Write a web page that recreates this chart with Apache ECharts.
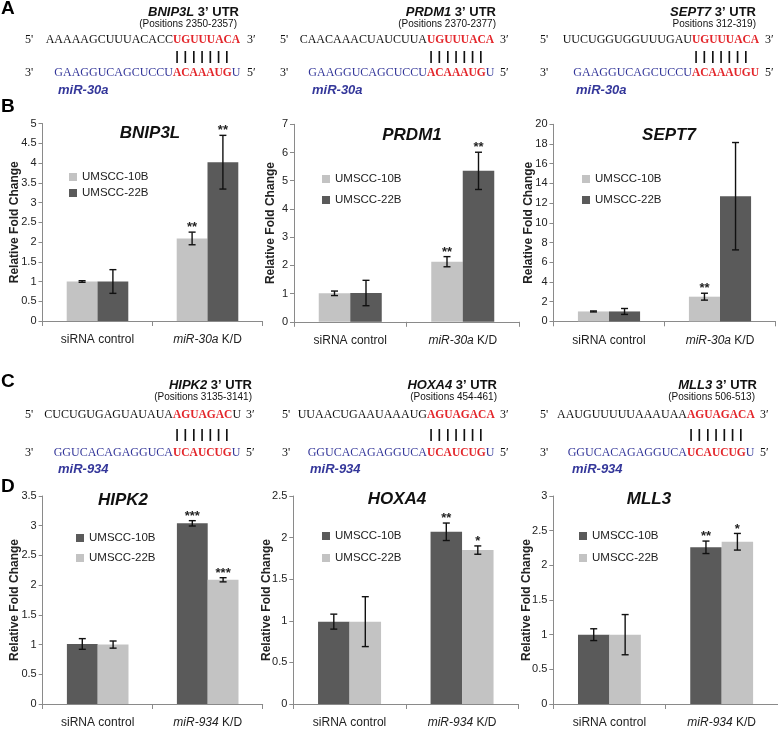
<!DOCTYPE html>
<html><head><meta charset="utf-8">
<script src="https://cdn.jsdelivr.net/npm/echarts@6/dist/echarts.min.js"></script>
<style>html,body{margin:0;padding:0;background:#fff;}#main{width:778px;height:729px;}</style>
</head><body><div id="main"></div>
<script>
// ---------------- data ----------------
const categoriesB = ['siRNA control', 'miR-30a K/D'];
const categoriesD = ['siRNA control', 'miR-934 K/D'];
const cellLines = ['UMSCC-10B', 'UMSCC-22B'];

const bnip3l10B = [1.00, 2.09], bnip3l10BErr = [0.02, 0.16], bnip3l10BSig = ['', '**'];
const bnip3l22B = [1.00, 4.02], bnip3l22BErr = [0.30, 0.68], bnip3l22BSig = ['', '**'];
const bnip3lTicks = [0, 5, 0.5];

const prdm110B = [1.01, 2.13], prdm110BErr = [0.08, 0.18], prdm110BSig = ['', '**'];
const prdm122B = [1.02, 5.35], prdm122BErr = [0.45, 0.66], prdm122BSig = ['', '**'];
const prdm1Ticks = [0, 7, 1];

const sept710B = [1.00, 2.50], sept710BErr = [0.05, 0.35], sept710BSig = ['', '**'];
const sept722B = [1.00, 12.7], sept722BErr = [0.30, 5.45], sept722BSig = ['', ''];
const sept7Ticks = [0, 20, 2];

const hipk210B = [1.01, 3.04], hipk210BErr = [0.09, 0.045], hipk210BSig = ['', '***'];
const hipk222B = [1.00, 2.09], hipk222BErr = [0.06, 0.035], hipk222BSig = ['', '***'];
const hipk2Ticks = [0, 3.5, 0.5];

const hoxa410B = [0.99, 2.07], hoxa410BErr = [0.09, 0.105], hoxa410BSig = ['', '**'];
const hoxa422B = [0.99, 1.85], hoxa422BErr = [0.30, 0.05], hoxa422BSig = ['', '*'];
const hoxa4Ticks = [0, 2.5, 0.5];

const mll310B = [1.00, 2.26], mll310BErr = [0.085, 0.09], mll310BSig = ['', '**'];
const mll322B = [1.00, 2.34], mll322BErr = [0.29, 0.12], mll322BSig = ['', '*'];
const mll3Ticks = [0, 3, 0.5];

const geneNames = ['BNIP3L', 'PRDM1', 'SEPT7', 'HIPK2', 'HOXA4', 'MLL3'];
const utrPositions = ['(Positions 2350-2357)', '(Positions 2370-2377)', 'Positions 312-319)',
                      '(Positions 3135-3141)', '(Positions 454-461)', '(Positions 506-513)'];
const utrBlack = ['AAAAAGCUUUACACC', 'CAACAAACUAUCUUA', 'UUCUGGUGGUUUGAU',
                  'CUCUGUGAGUAUAUA', 'UUAACUGAAUAAAUG', 'AAUGUUUUUAAAUAA'];
const utrRed = ['UGUUUACA', 'UGUUUACA', 'UGUUUACA', 'AGUAGAC', 'AGUAGACA', 'AGUAGACA'];
const utrTail = ['', '', '', 'U', '', ''];
const mirBlue = ['GAAGGUCAGCUCCU', 'GAAGGUCAGCUCCU', 'GAAGGUCAGCUCCU',
                 'GGUCACAGAGGUCA', 'GGUCACAGAGGUCA', 'GGUCACAGAGGUCA'];
const mirRed = ['ACAAAUG', 'ACAAAUG', 'ACAAAUGU', 'UCAUCUG', 'UCAUCUG', 'UCAUCUG'];
const mirTail = ['U', 'U', '', 'U', 'U', 'U'];
const mirNames = ['miR-30a', 'miR-30a', 'miR-30a', 'miR-934', 'miR-934', 'miR-934'];
const panelLetters = ['A', 'B', 'C', 'D'];
const yAxisName = 'Relative Fold Change';

// ---------------- styling / layout ----------------
const LIGHT = '#c3c3c3', DARK = '#5a5a5a';
const SANS = 'Liberation Sans, Arial, sans-serif';
const SERIF = 'Liberation Serif, Times New Roman, serif';
const RED = '#e3262b', BLUE = '#34379a';

const charts = [
  {gene: 0, cats: categoriesB, a: [bnip3l10B, bnip3l10BErr, bnip3l10BSig], b: [bnip3l22B, bnip3l22BErr, bnip3l22BSig], ticks: bnip3lTicks, colors: [LIGHT, DARK]},
  {gene: 1, cats: categoriesB, a: [prdm110B, prdm110BErr, prdm110BSig], b: [prdm122B, prdm122BErr, prdm122BSig], ticks: prdm1Ticks, colors: [LIGHT, DARK]},
  {gene: 2, cats: categoriesB, a: [sept710B, sept710BErr, sept710BSig], b: [sept722B, sept722BErr, sept722BSig], ticks: sept7Ticks, colors: [LIGHT, DARK]},
  {gene: 3, cats: categoriesD, a: [hipk210B, hipk210BErr, hipk210BSig], b: [hipk222B, hipk222BErr, hipk222BSig], ticks: hipk2Ticks, colors: [DARK, LIGHT]},
  {gene: 4, cats: categoriesD, a: [hoxa410B, hoxa410BErr, hoxa410BSig], b: [hoxa422B, hoxa422BErr, hoxa422BSig], ticks: hoxa4Ticks, colors: [DARK, LIGHT]},
  {gene: 5, cats: categoriesD, a: [mll310B, mll310BErr, mll310BSig], b: [mll322B, mll322BErr, mll322BSig], ticks: mll3Ticks, colors: [DARK, LIGHT]}
];
const layouts = [
  {grid: {left: 42.5, top: 123.5, width: 220, height: 197.5}, legend: {left: 64, top: 165, gap: 2}, title: [150, 133], nameGap: 22},
  {grid: {left: 294, top: 124.3, width: 225, height: 197.5}, legend: {left: 317, top: 167, gap: 7}, title: [412, 135], nameGap: 17.5},
  {grid: {left: 553.5, top: 124.3, width: 222, height: 197}, legend: {left: 577, top: 167, gap: 7}, title: [669, 135], nameGap: 18.5},
  {grid: {left: 42.7, top: 496, width: 220, height: 215.7}, legend: {left: 71, top: 526, gap: 6}, title: [123, 500], nameGap: 22},
  {grid: {left: 293.3, top: 496, width: 225, height: 215.7}, legend: {left: 317, top: 524, gap: 8}, title: [397, 499], nameGap: 21},
  {grid: {left: 553.3, top: 496, width: 224.5, height: 214}, legend: {left: 574, top: 524, gap: 8}, title: [649, 499], nameGap: 21}
];
const seqLayouts = [
  {p5: 25, red: 173, p3: 247, titleR: 239, posR: 237, mir: 58, yT: 12, yP: 24, y1: 40, yPipe: 56, y2: 73, yM: 90},
  {p5: 280, red: 427, p3: 500, titleR: 496, posR: 496, mir: 312, yT: 12, yP: 24, y1: 40, yPipe: 56, y2: 73, yM: 90},
  {p5: 540, red: 692, p3: 765, titleR: 756, posR: 756, mir: 576, yT: 12, yP: 24, y1: 40, yPipe: 56, y2: 73, yM: 90},
  {p5: 25, red: 173, p3: 246, titleR: 252, posR: 252, mir: 58, yT: 385, yP: 397, y1: 415, yPipe: 434, y2: 453, yM: 469},
  {p5: 282, red: 427, p3: 500, titleR: 497, posR: 497, mir: 310, yT: 385, yP: 397, y1: 415, yPipe: 434, y2: 453, yM: 469},
  {p5: 540, red: 687, p3: 760, titleR: 757, posR: 755, mir: 572, yT: 385, yP: 397, y1: 415, yPipe: 434, y2: 453, yM: 469}
];
const letterPos = [[1, 9], [1, 107], [1, 382], [1, 487]];

const BAR_FRAC = 0.28;

function errRenderer(sign, sig) {
  return function (params, api) {
    const ci = api.value(0), m = api.value(1), e = api.value(2);
    const band = api.size([1, 0])[0];
    const bw = band * BAR_FRAC;
    const c = api.coord([ci, m]);
    const x = c[0] + sign * bw / 2;
    const yTop = api.coord([ci, m + e])[1];
    const yBot = api.coord([ci, m - e])[1];
    const cap = 3.5;
    const ls = {stroke: '#111', lineWidth: 1.4};
    const children = [
      {type: 'line', shape: {x1: x, y1: yTop, x2: x, y2: yBot}, style: ls},
      {type: 'line', shape: {x1: x - cap, y1: yTop, x2: x + cap, y2: yTop}, style: ls},
      {type: 'line', shape: {x1: x - cap, y1: yBot, x2: x + cap, y2: yBot}, style: ls}
    ];
    const s = sig[params.dataIndex];
    if (s) {
      children.push({type: 'text', x: x, y: yTop + 2,
        style: {text: s, font: 'bold 13px ' + SANS, fill: '#222', textAlign: 'center', textVerticalAlign: 'bottom'}});
    }
    return {type: 'group', children: children};
  };
}

const option = {
  animation: false,
  backgroundColor: '#fff',
  grid: [], xAxis: [], yAxis: [], legend: [], series: [], graphic: []
};

charts.forEach(function (ch, k) {
  const L = layouts[k];
  option.grid.push(Object.assign({containLabel: false}, L.grid));
  option.xAxis.push({
    type: 'category', gridIndex: k, data: ch.cats,
    axisLine: {lineStyle: {color: '#8a8a8a', width: 1}},
    axisTick: {show: true, length: 5, lineStyle: {color: '#8a8a8a'}},
    axisLabel: {
      interval: 0, hideOverlap: false,
      margin: 13, color: '#222', fontSize: 12, fontFamily: SANS,
      formatter: function (v) {
        if (v.indexOf(' K/D') > 0) return '{i|' + v.replace(' K/D', '') + '}{n| K/D}';
        return '{n|' + v + '}';
      },
      rich: {i: {fontStyle: 'italic', fontSize: 12, color: '#222', fontFamily: SANS}, n: {fontSize: 12, color: '#222', fontFamily: SANS}}
    },
    splitLine: {show: false}
  });
  option.yAxis.push({
    type: 'value', gridIndex: k, min: ch.ticks[0], max: ch.ticks[1], interval: ch.ticks[2],
    name: yAxisName, nameLocation: 'middle', nameGap: L.nameGap, nameMoveOverlap: false,
    nameTextStyle: {fontSize: 12, fontWeight: 'bold', color: '#222', fontFamily: SANS},
    axisLine: {show: true, lineStyle: {color: '#8a8a8a', width: 1}},
    axisTick: {show: true, length: 4, lineStyle: {color: '#8a8a8a'}},
    axisLabel: {margin: 6, color: '#222', fontSize: 11, fontFamily: SANS},
    splitLine: {show: false}
  });
  const n1 = cellLines[0] + '#' + k, n2 = cellLines[1] + '#' + k;
  option.legend.push({
    data: [n1, n2], left: L.legend.left, top: L.legend.top, orient: 'vertical',
    itemWidth: 8, itemHeight: 8, itemGap: L.legend.gap, icon: 'rect', selectedMode: false,
    formatter: function (nm) { return nm.split('#')[0]; },
    textStyle: {fontSize: 11.5, color: '#222', fontFamily: SANS, lineHeight: 14}
  });
  [[ch.a, n1, ch.colors[0]], [ch.b, n2, ch.colors[1]]].forEach(function (s) {
    option.series.push({
      type: 'bar', name: s[1], xAxisIndex: k, yAxisIndex: k, data: s[0][0],
      barWidth: (BAR_FRAC * 100) + '%', barGap: '0%',
      itemStyle: {color: s[2]}, silent: true
    });
  });
  [[ch.a, 'ea#' + k, -1], [ch.b, 'eb#' + k, 1]].forEach(function (s) {
    const vals = s[0][0], errs = s[0][1], sig = s[0][2];
    option.series.push({
      type: 'custom', name: s[1], xAxisIndex: k, yAxisIndex: k, silent: true, z: 5,
      data: vals.map(function (v, i) { return [i, v, errs[i]]; }),
      encode: {x: 0, y: 1},
      renderItem: errRenderer(s[2], sig)
    });
  });
  option.graphic.push({type: 'text', x: L.title[0], y: L.title[1],
    style: {text: geneNames[ch.gene], font: 'italic bold 17px ' + SANS, fill: '#111', textAlign: 'center', textVerticalAlign: 'middle'}});
});

seqLayouts.forEach(function (S, i) {
  const g = option.graphic;
  g.push({type: 'text', x: S.titleR, y: S.yT, style: {
    text: '{i|' + geneNames[i] + '}{n| 3’ UTR}', textAlign: 'right', textVerticalAlign: 'middle',
    rich: {i: {font: 'italic bold 13px ' + SANS, fill: '#111'}, n: {font: 'bold 13px ' + SANS, fill: '#111'}}}});
  g.push({type: 'text', x: S.posR, y: S.yP, style: {text: utrPositions[i], font: '10px ' + SANS, fill: '#111', textAlign: 'right', textVerticalAlign: 'middle'}});
  g.push({type: 'text', x: S.p5, y: S.y1, style: {text: "5'", font: '12px ' + SERIF, fill: '#111', textAlign: 'left', textVerticalAlign: 'middle'}});
  g.push({type: 'text', x: S.red, y: S.y1, style: {text: utrBlack[i], font: '12px ' + SERIF, fill: '#111', textAlign: 'right', textVerticalAlign: 'middle'}});
  g.push({type: 'text', x: S.red, y: S.y1, style: {
    text: '{r|' + utrRed[i] + '}' + (utrTail[i] ? '{k|' + utrTail[i] + '}' : ''), textAlign: 'left', textVerticalAlign: 'middle',
    rich: {r: {font: 'bold 11.5px ' + SERIF, fill: RED}, k: {font: '12px ' + SERIF, fill: '#111'}}}});
  g.push({type: 'text', x: S.p3, y: S.y1, style: {text: '3′', font: '12px ' + SERIF, fill: '#111', textAlign: 'left', textVerticalAlign: 'middle'}});
  for (let p = 0; p < 7; p++) {
    g.push({type: 'text', x: S.red + 4.1 + p * 8.3, y: S.yPipe, style: {text: '|', font: 'bold 13px ' + SANS, fill: '#111', textAlign: 'center', textVerticalAlign: 'middle'}});
  }
  g.push({type: 'text', x: S.p5, y: S.y2, style: {text: "3'", font: '12px ' + SERIF, fill: '#111', textAlign: 'left', textVerticalAlign: 'middle'}});
  g.push({type: 'text', x: S.red, y: S.y2, style: {text: mirBlue[i], font: '12px ' + SERIF, fill: BLUE, textAlign: 'right', textVerticalAlign: 'middle'}});
  g.push({type: 'text', x: S.red, y: S.y2, style: {
    text: '{r|' + mirRed[i] + '}' + (mirTail[i] ? '{b|' + mirTail[i] + '}' : ''), textAlign: 'left', textVerticalAlign: 'middle',
    rich: {r: {font: 'bold 11.5px ' + SERIF, fill: RED}, b: {font: '12px ' + SERIF, fill: BLUE}}}});
  g.push({type: 'text', x: S.p3, y: S.y2, style: {text: '5′', font: '12px ' + SERIF, fill: '#111', textAlign: 'left', textVerticalAlign: 'middle'}});
  g.push({type: 'text', x: S.mir, y: S.yM, style: {text: mirNames[i], font: 'italic bold 13px ' + SANS, fill: BLUE, textAlign: 'left', textVerticalAlign: 'middle'}});
});

panelLetters.forEach(function (t, i) {
  option.graphic.push({type: 'text', x: letterPos[i][0], y: letterPos[i][1],
    style: {text: t, font: 'bold 19px ' + SANS, fill: '#000', textAlign: 'left', textVerticalAlign: 'middle'}});
});

const chart = echarts.init(document.getElementById('main'), null, {renderer: 'canvas'});
chart.setOption(option);
</script>
</body></html>
